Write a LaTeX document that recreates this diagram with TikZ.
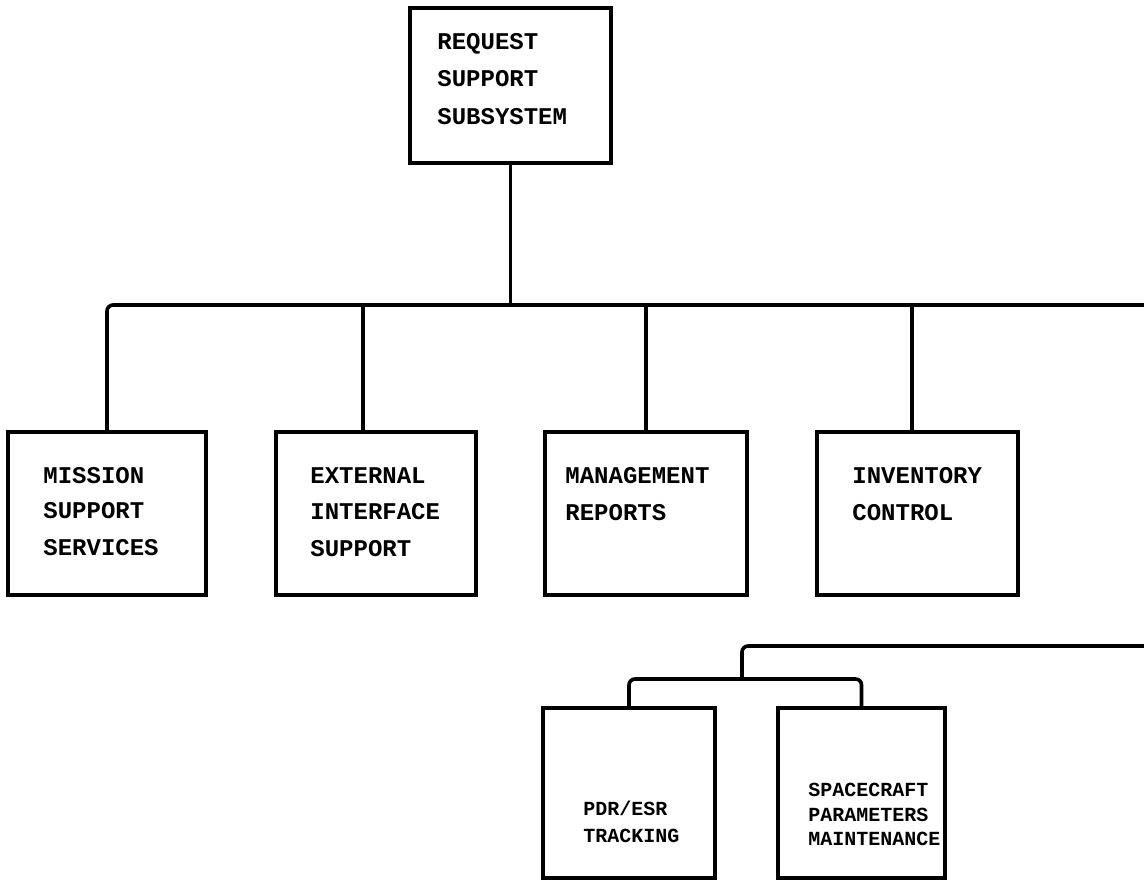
\documentclass[tikz,border=0pt]{standalone}
\usepackage{fontspec}
\newfontfamily\tw{Liberation Mono}
\begin{document}
\begin{tikzpicture}[x=0.5pt,y=-0.5pt,
  box/.style={draw,line width=1.6pt,inner sep=0pt,minimum height=81.5pt},
  conn/.style={line width=1.8pt,rounded corners=3pt},
  lbl/.style={anchor=base west,inner sep=0pt,font=\tw\bfseries\fontsize{12}{14}\selectfont},
  lbls/.style={anchor=base west,inner sep=0pt,font=\tw\bfseries\fontsize{10}{12}\selectfont}]
\useasboundingbox (0,0) rectangle (1144,881);
% boxes
\node[box,minimum width=100.5pt,minimum height=77.5pt] (root) at (510.5,85.5) {};
\node[box,minimum width=99pt] (mis) at (107,513.5) {};
\node[box,minimum width=100pt] (ext) at (376,513.5) {};
\node[box,minimum width=101pt] (mgt) at (646,513.5) {};
\node[box,minimum width=100.5pt] (inv) at (917.5,513.5) {};
\node[box,minimum width=86pt,minimum height=85pt] (pdr) at (629,793) {};
\node[box,minimum width=83.5pt,minimum height=85pt] (sc) at (861.5,793) {};
% texts
\node[lbl] (r1) at (437,50) {REQUEST};
\node[lbl] (r2) at (437,87) {SUPPORT};
\node[lbl] (r3) at (437,125) {SUBSYSTEM};
\node[lbl] (m1) at (43,483) {MISSION};
\node[lbl] (m2) at (43,518) {SUPPORT};
\node[lbl] (m3) at (43,555) {SERVICES};
\node[lbl] (e1) at (310,483) {EXTERNAL};
\node[lbl] (e2) at (310,519) {INTERFACE};
\node[lbl] (e3) at (310,556) {SUPPORT};
\node[lbl] (g1) at (565,483) {MANAGEMENT};
\node[lbl] (g2) at (565,520) {REPORTS};
\node[lbl] (i1) at (852,483) {INVENTORY};
\node[lbl] (i2) at (852,520) {CONTROL};
\node[lbls] (p1) at (583,815) {PDR/ESR};
\node[lbls] (p2) at (583,842) {TRACKING};
\node[lbls] (s1) at (808,796) {SPACECRAFT};
\node[lbls] (s2) at (808,821) {PARAMETERS};
\node[lbls] (s3) at (808,845) {MAINTENANCE};
% connectors
\coordinate (busR) at (1144,305);
\coordinate (extstem) at (363,305);
\coordinate (invstem) at (912,305);
\draw[conn] (mis.north) |- (busR);
\draw[conn] (root.south) -- (root.south |- busR);
\draw[conn] (extstem) -- (extstem |- ext.north);
\draw[conn] (mgt.north |- busR) -- (mgt.north);
\draw[conn] (invstem) -- (invstem |- inv.north);
\coordinate (subR) at (1144,646);
\coordinate (subJ) at (742,679);
\draw[conn] (subR) -| (subJ);
\draw[conn] (pdr.north) |- (subJ) -| (sc.north);
\end{tikzpicture}
\end{document}
